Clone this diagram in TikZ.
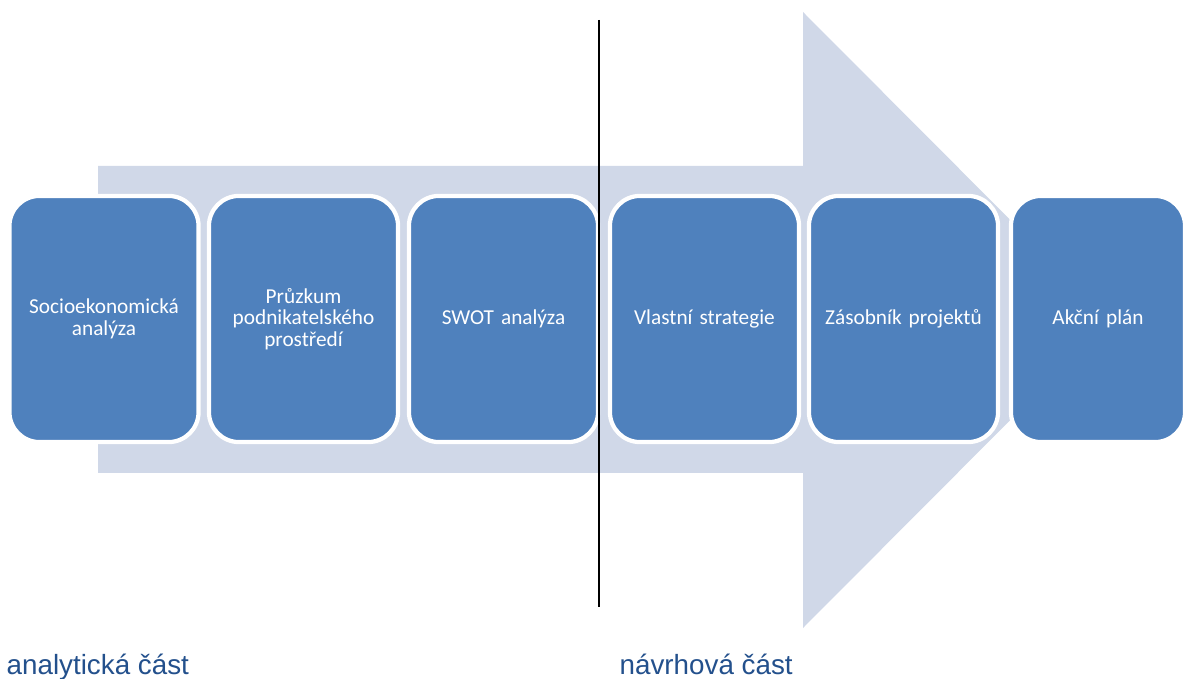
\documentclass[tikz,border=0pt]{standalone}
\usepackage{fontspec}
\setmainfont{Carlito}
\newfontfamily\partfont{Liberation Sans}
\usetikzlibrary{positioning}
\definecolor{stepblue}{RGB}{79,129,189}
\definecolor{arrowgrey}{RGB}{208,216,232}
\definecolor{partblue}{RGB}{35,80,140}
\tikzset{
  stepbox/.style={rectangle, rounded corners=0.3cm, fill=stepblue, draw=white,
    line width=1.2pt, minimum width=1.89cm, minimum height=2.46cm, inner sep=0pt,
    text=white, align=center, text width=1.8cm,
    font=\fontsize{6.05}{6.1}\selectfont},
  partlabel/.style={anchor=base west, inner sep=0pt, text=partblue,
    font=\partfont\fontsize{7.9}{9}\selectfont}
}
\begin{document}
\begin{tikzpicture}[x=0.01cm,y=-0.01cm]
  \useasboundingbox (0,0) rectangle (1184,679);
  % the big arrow behind the steps
  \fill[arrowgrey] (98,166) -- (803,166) -- (803,12) -- (1110,320)
    -- (803,628) -- (803,473) -- (98,473) -- cycle;
  % steps
  \node[stepbox] (socio) at (104,319) {Socioekonomická\\analýza};
  \node[stepbox] (pruzkum) at (303.5,319) {Průzkum\\podnikatelského\\prostředí};
  \node[stepbox] (swot) at (503.5,319) {SWOT analýza};
  \node[stepbox] (strategie) at (704.5,319) {Vlastní strategie};
  \node[stepbox] (zasobnik) at (903.5,319) {Zásobník projektů};
  \node[stepbox, minimum width=1.74cm, text width=1.6cm] (plan) at (1098,319) {Akční plán};
  % divider between the two parts
  \coordinate (top) at (599,20);
  \coordinate (bottom) at (599,607);
  \draw[line width=0.6pt] (top) -- (bottom);
  \node[partlabel] (analyticka) at (6,674) {analytická část};
  \node[partlabel] (navrhova) at (619,674) {návrhová část};
\end{tikzpicture}
\end{document}
